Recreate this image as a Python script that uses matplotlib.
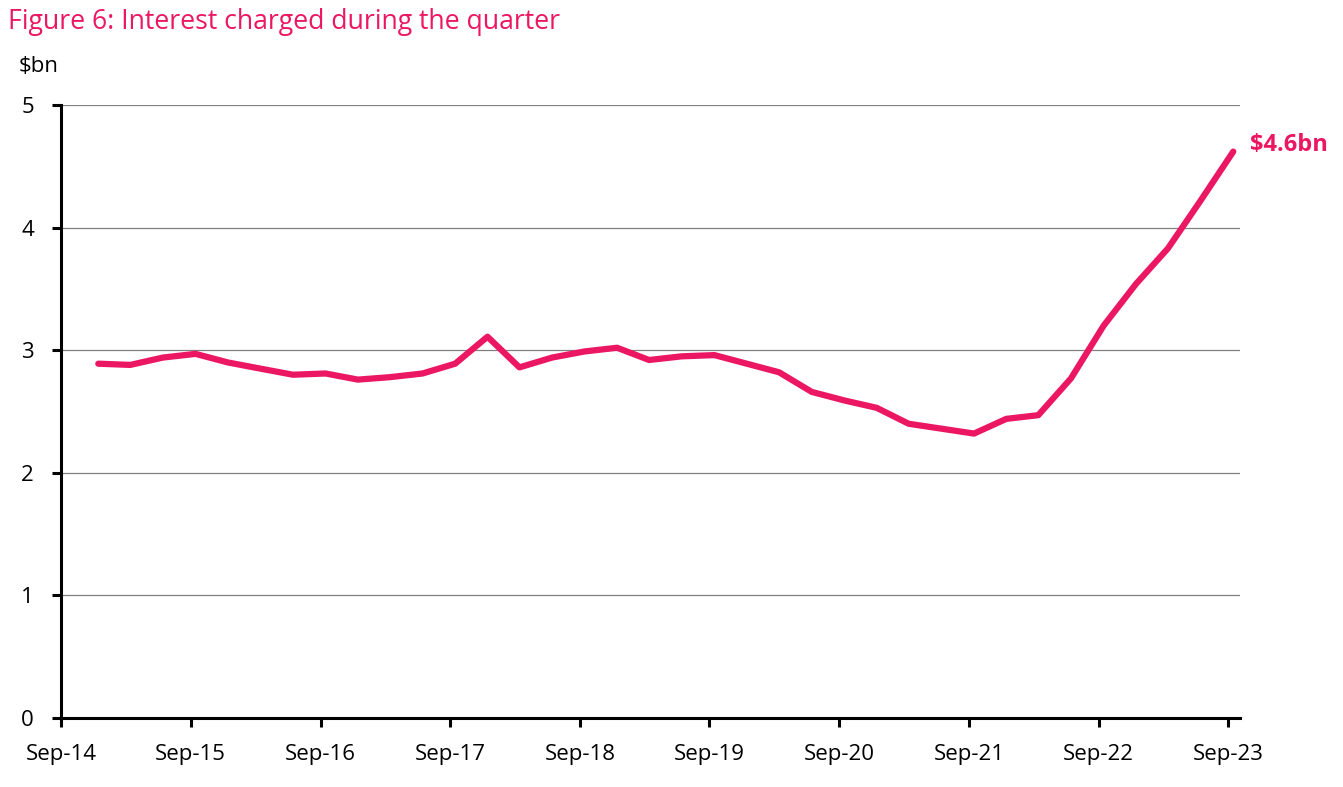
import pandas as pd
import matplotlib
matplotlib.use("Agg")
import matplotlib.pyplot as plt

plt.rcParams['font.family'] = ['Open Sans', 'DejaVu Sans']

# quarterly interest charged, $bn (Dec-14 .. Sep-23)
quarters = pd.date_range('2014-12-01', '2023-09-01', freq='3MS') + pd.Timedelta(days=14)
interest = [2.89, 2.88, 2.94, 2.97, 2.90, 2.85, 2.80, 2.81, 2.76, 2.78,
            2.81, 2.89, 3.11, 2.86, 2.94, 2.99, 3.02, 2.92, 2.95, 2.96,
            2.89, 2.82, 2.66, 2.59, 2.53, 2.40, 2.36, 2.32, 2.44, 2.47,
            2.77, 3.20, 3.54, 3.83, 4.22, 4.62]
tick_dates = pd.date_range('2014-09-01', '2023-09-01', freq='12MS')
tick_labels = [d.strftime('%b-%y') for d in tick_dates]
y_ticks = [0, 1, 2, 3, 4, 5]

pink = '#EC1763'

fig = plt.figure(figsize=(13.43, 7.87), dpi=100)
ax = fig.add_axes([61 / 1343, 1 - 718 / 787, (1240 - 61) / 1343, (718 - 105) / 787])

ax.plot(quarters, interest, color=pink, lw=4.5, solid_capstyle='round',
        solid_joinstyle='round', zorder=3)

ax.set_ylim(0, 5)
ax.set_xlim(tick_dates[0], pd.Timestamp('2023-10-04'))
ax.set_yticks(y_ticks)
ax.set_xticks(tick_dates)
ax.set_xticklabels(tick_labels)
ax.grid(axis='y', color='#808080', lw=0.9)
ax.set_axisbelow(True)

for s in ['top', 'right']:
    ax.spines[s].set_visible(False)
for s in ['left', 'bottom']:
    ax.spines[s].set_linewidth(2.2)
ax.tick_params(axis='both', length=6.5, width=2.2, labelsize=16, colors='black')
ax.tick_params(axis='y', pad=13)
ax.tick_params(axis='x', pad=12.5)

ax.text(-0.036, 1.045, '$bn', transform=ax.transAxes, fontsize=16, ha='left', va='bottom')
ax.annotate('$4.6bn', xy=(quarters[-1], interest[-1]), xytext=(12, 5),
            textcoords='offset points', color=pink, fontsize=17, fontweight='bold',
            ha='left', va='center')

fig.text(8 / 1343, 1 - 22 / 787, 'Figure 6: Interest charged during the quarter',
         color=pink, fontsize=19.2, ha='left', va='center')

fig.savefig('out.png', dpi=100)
